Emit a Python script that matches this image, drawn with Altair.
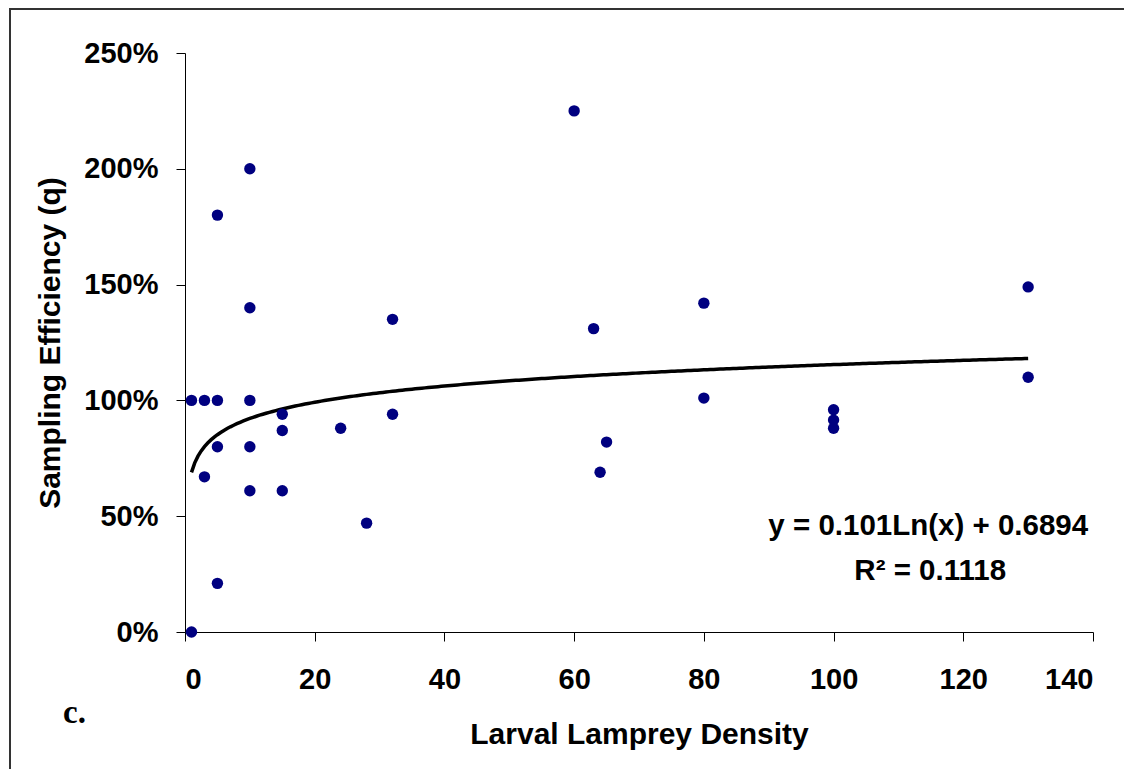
import altair as alt
import pandas as pd

# Larval lamprey density (x) vs sampling efficiency q (y, fraction)
density = [1, 1, 3, 3, 5, 5, 5, 5, 10, 10, 10, 10, 10, 15, 15, 15,
           24, 28, 32, 32, 60, 63, 64, 65, 80, 80, 100, 100, 100, 130, 130]
efficiency = [0.00, 1.00, 1.00, 0.67, 1.00, 0.80, 1.80, 0.21, 1.00, 0.80, 0.61, 2.00, 1.40,
              0.94, 0.87, 0.61, 0.88, 0.47, 1.35, 0.94, 2.25, 1.31, 0.69, 0.82, 1.42, 1.01,
              0.96, 0.915, 0.88, 1.49, 1.10]

# logarithmic trendline stated on the chart: y = 0.101 Ln(x) + 0.6894
trend_b = 0.101
trend_a = 0.6894
trend_range = [1, 130]

ann_text = ["y = 0.101Ln(x) + 0.6894", "R\u00b2 = 0.1118"]
ann_x = [114.6, 114.9]
ann_y = [0.419, 0.225]

x_ticks = [0, 20, 40, 60, 80, 100, 120, 140]
y_ticks = [0, 0.5, 1.0, 1.5, 2.0, 2.5]

df = pd.DataFrame({"density": density, "q": efficiency})
ann = pd.DataFrame({"t": ann_text, "x": ann_x, "y": ann_y})

W, H = 908, 579
FONT = "Liberation Sans"

xs = alt.Scale(domain=[0, 140], nice=False)
ys = alt.Scale(domain=[0, 2.5], nice=False)

points = alt.Chart(df).mark_circle(size=130, color="#000080", opacity=1).encode(
    x=alt.X("density:Q", scale=xs,
            axis=alt.Axis(values=x_ticks, title="Larval Lamprey Density", format="d",
                          labelPadding=24, titlePadding=25)),
    y=alt.Y("q:Q", scale=ys,
            axis=alt.Axis(values=y_ticks, format=".0%", title="Sampling Efficiency (q)",
                          labelPadding=18, titlePadding=18)),
)

trend = alt.Chart(alt.sequence(trend_range[0], trend_range[1] + 0.5, 0.5, as_="density")
                  ).transform_calculate(
    q=f"{trend_a} + {trend_b} * log(datum.density)"
).mark_line(color="black", strokeWidth=3.5).encode(
    x=alt.X("density:Q", scale=xs), y=alt.Y("q:Q", scale=ys))

eq = alt.Chart(ann).mark_text(font=FONT, fontWeight="bold", fontSize=29.5,
                              align="center", baseline="alphabetic", color="black").encode(
    x=alt.X("x:Q", scale=xs), y=alt.Y("y:Q", scale=ys), text="t:N")

one = alt.Data(values=[{"a": 1}])
label_c = alt.Chart(one).mark_text(text="c.", font="Liberation Serif", fontWeight="bold",
                                   fontSize=33, align="left", baseline="alphabetic",
                                   color="black").encode(x=alt.value(-122), y=alt.value(670))

frame_left = alt.Chart(one).mark_rule(color="#333333", strokeWidth=2).encode(
    x=alt.value(-175), y=alt.value(-44), y2=alt.value(900))
frame_top = alt.Chart(one).mark_rule(color="#333333", strokeWidth=2).encode(
    x=alt.value(-176), x2=alt.value(1200), y=alt.value(-44))

chart = alt.layer(frame_left, frame_top, trend, points, eq, label_c).properties(
    width=W, height=H,
    autosize=alt.AutoSizeParams(type="none"),
    padding={"left": 177, "top": 45, "right": 31, "bottom": 137},
).configure_view(stroke=None).configure_axis(
    grid=False, domainColor="black", tickColor="black", tickSize=9,
    labelFont=FONT, labelFontWeight="bold", labelFontSize=29, labelColor="black",
    titleFont=FONT, titleFontWeight="bold", titleFontSize=30, titleColor="black",
)

chart.save("out.html", embed_options={"renderer": "svg", "actions": False})
